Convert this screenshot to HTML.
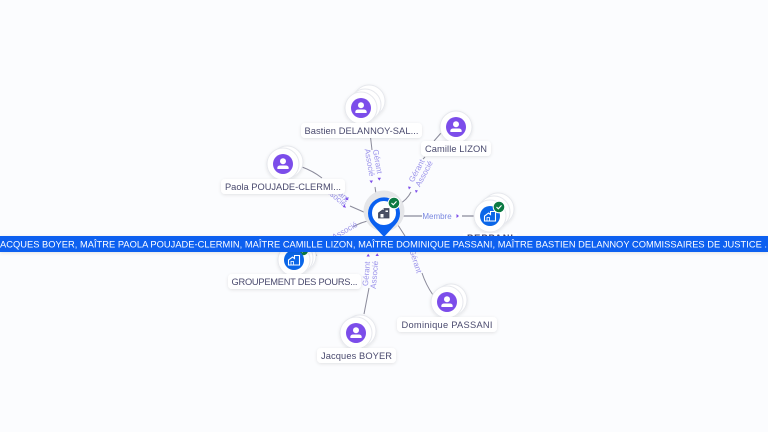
<!DOCTYPE html>
<html><head><meta charset="utf-8">
<style>
html,body{margin:0;padding:0;width:768px;height:432px;overflow:hidden;background:#fbfcfe}
svg{display:block}
text{font-family:"Liberation Sans",sans-serif}
.lb{font-size:9.3px;fill:#4a4a6e;text-anchor:middle}
.ed{font-size:8px;fill:#9a92ea;text-anchor:middle}
.e{fill:none;stroke:#8a8a9a;stroke-width:1}
.tr{fill:#7c4dea}
.b{fill:#fff;stroke:#e6e8ed;stroke-width:1}
</style></head><body>
<svg width="768" height="432" viewBox="0 0 768 432" xmlns="http://www.w3.org/2000/svg">
<defs>
<filter id="s" x="-30%" y="-30%" width="160%" height="160%"><feDropShadow dx="0" dy="1" stdDeviation="1.5" flood-color="#000" flood-opacity=".10"/></filter>
<g id="person"><circle r="10" fill="#7c4dea"/><circle cy="-2.8" r="3" fill="#fff"/><path d="M-5.5 5a2.5 2.5 0 0 1 2.5-3.5h6a2.5 2.5 0 0 1 2.5 3.5z" fill="#fff"/></g>
<g id="co"><circle r="10" fill="#0a66e8"/><path d="M-5.500 5v-5l4-3 2 1.500v-3h5v9.500z" fill="none" stroke="#fff" stroke-width="1.100"/><rect x="-3" y="1.500" width="2.500" height="3.500" fill="none" stroke="#fff" stroke-width=".8"/></g>
<g id="chk"><circle r="6.300" fill="#fff"/><circle r="5.300" fill="#0c7a43"/><path d="M-2.500 0l1.800 1.800 3.200-3.400" fill="none" stroke="#fff" stroke-width="1.100"/></g>
</defs>

<path class="e" d="M369 124L372 150M375 187L376.500 197"/>
<path class="e" d="M441 133L434 141M425 157L423 159M411 192Q407 200 398 205"/>
<path class="e" d="M302 167Q313 171 322 178M350 206L366 213"/>
<path style="stroke-width:1.300" class="e" d="M400 216H422M462 216H475"/>
<path class="e" d="M372 220Q361 222 353 227M317 255L309 258"/>
<path class="e" d="M369 288L364 314"/>
<path class="e" d="M396 222L405 236M422 273Q426 285 433 295"/>

<text transform="translate(375,162) rotate(80)" class="ed">Gérant</text>
<text transform="translate(367,163) rotate(80)" class="ed">Associé</text>
<text transform="translate(419,172) rotate(-62)" class="ed">Gérant</text>
<text transform="translate(426.500,175) rotate(-62)" class="ed">Associé</text>
<text transform="translate(337,194) rotate(40)" class="ed">Gérant</text>
<text transform="translate(333,198) rotate(40)" class="ed">Associé</text>
<text x="437" y="219" class="ed" style="font-size:8px;fill:#7a88e0">Membre</text>
<text transform="translate(346,233) rotate(-30)" class="ed">Associé</text>
<text transform="translate(369,274) rotate(-85)" class="ed">Gérant</text>
<text transform="translate(377,275) rotate(-85)" class="ed">Associé</text>
<text transform="translate(413,262) rotate(72)" class="ed">Gérant</text>

<g class="tr">
<path d="M369.500 180.500h3.500l-1.700 2.800zM377.500 177.800h3.500l-1.700 2.800z"/>
<path d="M408 186.500l3 .5-2 2.500zM415 190l3 .5-2 2.500z"/>
<path d="M347 197l1.500 3.300-3.300-.8zM344.500 204.500l1.500 3.300-3.300-.8z"/>
<path d="M456.500 214l2.500 2-2.500 2z"/>
<path d="M366.500 256.500l1.700-2.800 1.700 2.800zM375.500 256l1.700-2.800 1.700 2.800z"/>
</g>

<!-- Bastien -->
<g filter="url(#s)"><circle cx="369" cy="101" r="16" class="b"/><circle cx="365" cy="105" r="16" class="b"/><circle cx="361" cy="108" r="16" class="b"/></g>
<use href="#person" x="361" y="108"/>
<rect x="301" y="123" width="121" height="15" rx="4" fill="#fff" filter="url(#s)"/>
<text x="361.500" y="134" class="lb" textLength="114">Bastien DELANNOY-SAL...</text>

<!-- Camille -->
<circle cx="456" cy="127" r="16" class="b" filter="url(#s)"/>
<use href="#person" x="456" y="127"/>
<rect x="421" y="141" width="70" height="15" rx="4" fill="#fff" filter="url(#s)"/>
<text x="456" y="152" class="lb" textLength="62">Camille LIZON</text>

<!-- Paola -->
<g filter="url(#s)"><circle cx="287" cy="162" r="16" class="b"/><circle cx="283" cy="164" r="16" class="b"/></g>
<use href="#person" x="283" y="164"/>
<rect x="221" y="179" width="124" height="15" rx="4" fill="#fff" filter="url(#s)"/>
<text x="283" y="190" class="lb" textLength="116">Paola POUJADE-CLERMI...</text>

<!-- Company right -->
<g filter="url(#s)"><circle cx="498" cy="209" r="16" class="b"/><circle cx="494" cy="212" r="16" class="b"/><circle cx="490" cy="216" r="16" class="b"/></g>
<use href="#co" x="490" y="216"/>
<use href="#chk" x="499" y="207"/>
<rect x="463" y="233" width="54" height="12" fill="#fff"/>
<text x="490" y="241" class="lb" style="font-weight:bold" textLength="46">PEPPANI</text>

<!-- Groupement -->
<g filter="url(#s)"><circle cx="300" cy="256" r="16" class="b"/><circle cx="297" cy="258" r="16" class="b"/><circle cx="294" cy="260" r="16" class="b"/></g>
<use href="#chk" x="303" y="250"/>
<use href="#co" x="294" y="260"/>
<rect x="228" y="274" width="133" height="15" rx="4" fill="#fff" filter="url(#s)"/>
<text x="294.500" y="285" class="lb" textLength="126">GROUPEMENT DES POURS...</text>

<!-- Jacques -->
<g filter="url(#s)"><circle cx="360" cy="331" r="16" class="b"/><circle cx="356" cy="333" r="16" class="b"/></g>
<use href="#person" x="356" y="333"/>
<rect x="317" y="348" width="79" height="15" rx="4" fill="#fff" filter="url(#s)"/>
<text x="356.500" y="359" class="lb" textLength="71">Jacques BOYER</text>

<!-- Dominique -->
<g filter="url(#s)"><circle cx="451" cy="300" r="16" class="b"/><circle cx="447" cy="302" r="16" class="b"/></g>
<use href="#person" x="447" y="302"/>
<rect x="397" y="317" width="100" height="15" rx="4" fill="#fff" filter="url(#s)"/>
<text x="447" y="328" class="lb" textLength="91">Dominique PASSANI</text>

<!-- Band -->
<rect x="0" y="236" width="768" height="16" fill="#0a60f0" filter="url(#s)"/>
<text x="0" y="247.500" style="font-size:9.300px;fill:#fff" textLength="767" lengthAdjust="spacing">ACQUES BOYER, MAÎTRE PAOLA POUJADE-CLERMIN, MAÎTRE CAMILLE LIZON, MAÎTRE DOMINIQUE PASSANI, MAÎTRE BASTIEN DELANNOY COMMISSAIRES DE JUSTICE .</text>

<!-- Central -->
<circle cx="384" cy="211" r="20.500" fill="#e5e6e9"/>
<path d="M384 237L372.500 224.500A16 16 0 1 1 395.500 224.500Z" fill="#0a60f0"/>
<circle cx="384" cy="213" r="12" fill="#fff"/>
<path d="M378.500 218v-5l4-3 1.500 1v-2.500h5v9.500z" fill="#4a5064" stroke="#3c4358" stroke-width=".8"/>
<rect x="380.500" y="214" width="3" height="3.500" fill="#fff"/>
<rect x="385.500" y="210.500" width="2.500" height="1.500" fill="#fff"/>
<use href="#chk" x="394" y="203"/>
</svg>
</body></html>
